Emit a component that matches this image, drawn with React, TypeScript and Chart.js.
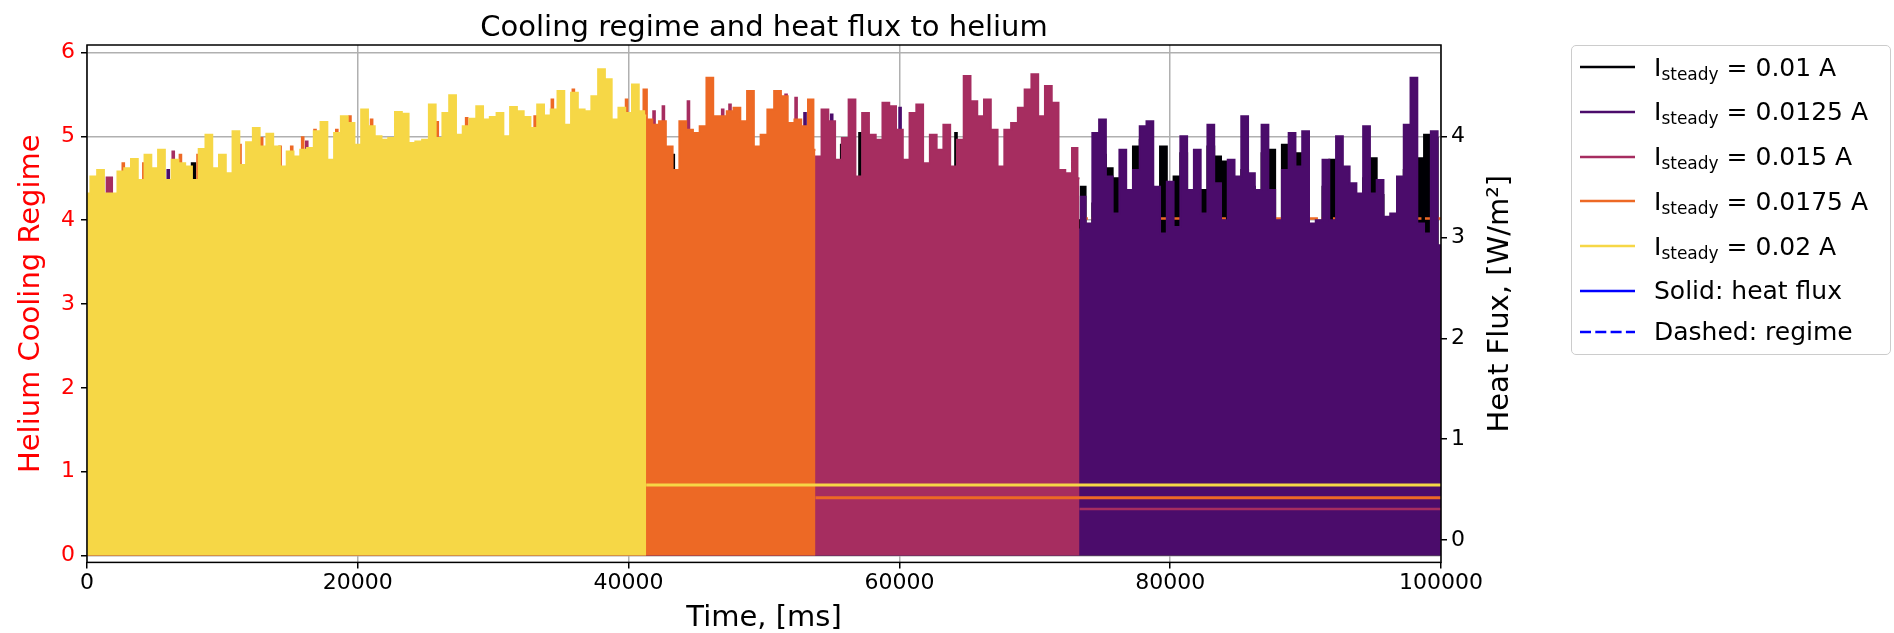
import React, { useEffect, useRef } from "react";
import { Chart, registerables } from "chart.js";

Chart.register(...registerables);

const FONT = '"DejaVu Sans", "Liberation Sans", sans-serif';

const TITLE = "Cooling regime and heat flux to helium";
const X_LABEL = "Time, [ms]";
const Y_LEFT_LABEL = "Helium Cooling Regime";
const Y_RIGHT_LABEL = "Heat Flux, [W/m\u00B2]";

const X_TICKS = [0, 20000, 40000, 60000, 80000, 100000];
const LEFT_TICKS = [0, 1, 2, 3, 4, 5, 6];
const RIGHT_TICKS = [0, 1, 2, 3, 4];

const CURRENTS = ["0.01", "0.0125", "0.015", "0.0175", "0.02"];
const COLORS = ["#000004", "#4b0c6b", "#a62d60", "#ed6925", "#f6d746"];

const STEP = 500; // ms between envelope samples

// ---- regime envelopes (left axis) ----
// I = 0.02 A, samples from t = 0
const YELLOW_T0 = 0;
const YELLOW_ENV = [
  4.32, 4.52, 4.6, 4.32, 4.32, 4.58, 4.62, 4.73, 4.48, 4.78,
  4.62, 4.84, 4.48, 4.72, 4.68, 4.64, 4.48, 4.85, 5.02, 4.62,
  4.78, 4.56, 5.06, 4.66, 4.93, 5.1, 4.88, 5.03, 4.88, 4.64,
  4.82, 4.76, 4.84, 4.86, 5.06, 5.17, 4.72, 5.04, 5.24, 5.16,
  4.9, 5.32, 5.12, 5.0, 4.96, 4.98, 5.29, 5.27, 4.92, 4.94,
  4.96, 5.38, 4.98, 5.28, 5.49, 5.02, 5.12, 5.21, 5.36, 5.2,
  5.23, 5.28, 5.0, 5.35, 5.3, 5.23, 5.1, 5.38, 5.25, 5.32,
  5.54, 5.14, 5.52, 5.32, 5.3, 5.48, 5.8, 5.68, 5.2, 5.34,
  5.28, 5.62, 5.3,
];
const YELLOW_TAIL: [number, number][] = [[41300, 5.25]];

// I = 0.0175 A
const ORANGE_HIDDEN: [number, number][] = [
  [0, 4.1], [2560, 4.1], [2680, 4.68], [2800, 4.15], [4080, 4.2], [4200, 4.68], [4320, 4.2],
  [6780, 4.2], [6900, 4.78], [7020, 4.2], [8080, 4.3], [8200, 4.78], [8320, 4.3],
  [11180, 4.35], [11300, 4.9], [11420, 4.35], [12780, 4.35], [12900, 4.98], [13020, 4.35],
  [14140, 4.4], [14260, 4.88], [14380, 4.4], [15000, 4.45], [15120, 4.88], [15240, 4.45],
  [15810, 4.45], [15930, 4.99], [16050, 4.45], [16720, 4.5], [16840, 5.08], [16960, 4.5],
  [18330, 4.55], [18450, 5.08], [18570, 4.55], [19300, 4.6], [19420, 5.24], [19540, 4.6],
  [20900, 4.6], [21020, 5.2], [21140, 4.6], [25750, 4.7], [25870, 5.17], [25990, 4.7],
  [27920, 4.75], [28040, 5.22], [28160, 4.75], [32980, 4.85], [33100, 5.24], [33220, 4.85],
  [34250, 4.85], [34370, 5.44], [34490, 4.85], [35800, 4.9], [35920, 5.56], [36040, 4.9],
  [39730, 4.95], [39850, 5.44], [39970, 4.95], [41000, 4.95], [41200, 5.56],
];
const ORANGE_T0 = 41500;
const ORANGE_ENV = [
  5.2, 5.14, 5.18, 4.88, 4.6, 5.18, 5.08, 5.04, 5.12, 5.7,
  5.24, 5.24, 5.3, 5.34, 5.18, 5.54, 4.88, 5.02, 5.32, 5.54,
  5.48, 5.16, 5.2, 5.12, 5.44,
];
const ORANGE_TAIL: [number, number][] = [[53800, 4.84]];

// I = 0.015 A
const MAGENTA_HIDDEN: [number, number][] = [
  [0, 4.05], [1400, 4.1], [1500, 4.51], [1800, 4.51], [1900, 4.1], [6250, 4.15], [6370, 4.82], [6490, 4.15],
  [9700, 4.25], [9820, 4.76], [9940, 4.25], [16110, 4.4], [16230, 4.94], [16350, 4.4],
  [30000, 4.6], [41000, 4.8], [41300, 4.4], [41760, 4.4], [41880, 5.3], [42000, 4.4],
  [42450, 4.4], [42570, 5.36], [42690, 4.4], [44300, 4.4], [44420, 5.42], [44540, 4.4],
  [46830, 4.4], [46950, 5.32], [47070, 4.4], [47370, 4.4], [47490, 5.38], [47610, 4.4],
  [51510, 4.4], [51630, 5.5], [51750, 4.4], [52250, 4.4], [52370, 5.46], [52490, 4.4],
  [53800, 4.76],
];
const MAGENTA_T0 = 54000;
const MAGENTA_ENV = [
  4.76, 5.32, 5.18, 4.72, 4.98, 5.44, 4.52, 5.28, 5.02, 4.96,
  5.4, 5.36, 5.08, 4.72, 5.28, 5.38, 4.68, 5.02, 4.84, 5.14,
  4.64, 4.96, 5.72, 5.42, 5.24, 5.44, 5.08, 4.64, 5.08, 5.16,
  5.34, 5.56, 5.74, 5.24, 5.6, 5.4, 4.6, 4.56, 4.86,
];
const MAGENTA_TAIL: [number, number][] = [[73300, 4.5]];

// I = 0.0125 A
const PURPLE_HIDDEN: [number, number][] = [
  [0, 4.0], [5880, 4.1], [6000, 4.6], [6120, 4.1], [41300, 4.25],
  [52910, 4.3], [53030, 5.28], [53150, 4.3], [54880, 4.3], [55000, 5.26], [55120, 4.3],
  [59930, 4.3], [60050, 5.34], [60170, 4.3], [73300, 3.89],
];
const PURPLE_T0 = 73500;
const PURPLE_ENV = [
  4.28, 3.96, 5.04, 5.2, 4.52, 4.08, 4.84, 4.36, 4.6, 5.12,
  5.18, 4.4, 3.84, 4.46, 3.92, 5.0, 4.36, 4.84, 4.08, 5.14,
  4.44, 4.0, 4.72, 4.52, 5.24, 4.56, 4.36, 5.14, 4.36, 4.0,
  4.6, 5.04, 4.64, 5.06, 3.96, 4.0, 4.72, 4.0, 5.0, 4.64,
  4.44, 4.32, 5.12, 4.32, 4.48, 4.04, 4.08, 4.52, 5.14, 5.7,
  3.96, 3.84, 5.06, 3.7,
];

// I = 0.01 A
const BLACK_HIDDEN: [number, number][] = [
  [0, 4.0], [7700, 4.1], [7780, 4.68], [7950, 4.68], [8030, 4.1], [41300, 4.2],
  [43180, 4.2], [43300, 4.78], [43420, 4.2], [55620, 4.2], [55740, 4.9], [55860, 4.2],
  [56970, 4.2], [57090, 5.04], [57210, 4.2], [64060, 4.2], [64180, 5.04], [64300, 4.2],
  [73300, 4.0],
];
const BLACK_T0 = 73500;
const BLACK_ENV = [
  4.4, 3.9, 4.2, 4.78, 4.62, 4.5, 4.3, 4.2, 4.88, 4.96,
  4.4, 4.3, 4.88, 4.3, 4.52, 4.8, 4.2, 4.3, 4.36, 4.88,
  4.76, 4.7, 4.3, 4.4, 4.6, 4.4, 4.2, 4.8, 4.84, 3.9,
  4.9, 4.5, 4.8, 4.4, 3.8, 3.9, 4.4, 4.72, 4.3, 4.4,
  4.3, 4.2, 4.5, 4.74, 4.3, 3.9, 3.9, 4.3, 4.6, 4.4,
  4.74, 5.02, 4.98, 3.6,
];

// regime of I = 0.0175 A after its transition (dashed)
const REGIME_DASHED_0175: [number, number][] = [[53800, 4.02], [100000, 4.02]];

// ---- steady heat flux (right axis) ----
const HF_020: [number, number][] = [[41300, 0.547], [100000, 0.547]];
const HF_0175: [number, number][] = [[53800, 0.42], [100000, 0.42]];
const HF_015: [number, number][] = [[73300, 0.31], [100000, 0.31]];

const pairs = (a: [number, number][]) => a.map(([x, y]) => ({ x, y }));
const grid = (t0: number, v: number[]) => v.map((y, i) => ({ x: t0 + i * STEP, y }));

function regimeFill(label: string, color: string, data: any[], order: number) {
  return {
    label,
    data,
    yAxisID: "y",
    borderColor: color,
    backgroundColor: color,
    borderWidth: 2,
    pointRadius: 0,
    stepped: "middle",
    fill: "origin",
    order,
  };
}

function fluxLine(label: string, color: string, data: any[], order: number, width: number) {
  return {
    label,
    data,
    yAxisID: "y1",
    borderColor: color,
    backgroundColor: color,
    borderWidth: width,
    pointRadius: 0,
    fill: false,
    order,
  };
}

const framePlugin = {
  id: "frameAndTitles",
  afterDraw(chart: any) {
    const { ctx, chartArea: a } = chart;
    ctx.save();
    ctx.strokeStyle = "#000";
    ctx.lineWidth = 1.5;
    ctx.strokeRect(a.left, a.top, a.right - a.left, a.bottom - a.top);
    ctx.font = `29px ${FONT}`;
    ctx.textAlign = "center";
    ctx.textBaseline = "alphabetic";
    ctx.fillStyle = "#000";
    const cx = (a.left + a.right) / 2;
    const cy = (a.top + a.bottom) / 2;
    ctx.fillText(TITLE, cx, a.top - 9);
    ctx.fillText(X_LABEL, cx, a.bottom + 64);
    ctx.save();
    ctx.translate(a.left - 48, cy);
    ctx.rotate(-Math.PI / 2);
    ctx.fillStyle = "#ff0000";
    ctx.fillText(Y_LEFT_LABEL, 0, 0);
    ctx.restore();
    ctx.save();
    ctx.translate(a.right + 67, cy);
    ctx.rotate(-Math.PI / 2);
    ctx.fillStyle = "#000";
    ctx.fillText(Y_RIGHT_LABEL, 0, 0);
    ctx.restore();
    ctx.restore();
  },
};

const LEGEND_ROWS = [
  ...CURRENTS.map((c, i) => ({ sub: true, text: ` = ${c} A`, color: COLORS[i], dashed: false })),
  { sub: false, text: "Solid: heat flux", color: "#0000ff", dashed: false },
  { sub: false, text: "Dashed: regime", color: "#0000ff", dashed: true },
];

export default function App() {
  const ref = useRef<HTMLCanvasElement>(null);

  useEffect(() => {
    const canvas = ref.current;
    if (!canvas) return;
    const tickFont = { family: FONT, size: 22 };
    const chart = new Chart(canvas, {
      type: "line",
      data: {
        datasets: [
          fluxLine("hf 0.02", COLORS[4], pairs(HF_020), 1, 3),
          fluxLine("hf 0.0175", COLORS[3], pairs(HF_0175), 2, 3),
          fluxLine("hf 0.015", COLORS[2], pairs(HF_015), 3, 2.5),
          regimeFill("0.02", COLORS[4], [...grid(YELLOW_T0, YELLOW_ENV), ...pairs(YELLOW_TAIL)], 4),
          regimeFill("0.0175", COLORS[3], [...pairs(ORANGE_HIDDEN), ...grid(ORANGE_T0, ORANGE_ENV), ...pairs(ORANGE_TAIL)], 5),
          regimeFill("0.015", COLORS[2], [...pairs(MAGENTA_HIDDEN), ...grid(MAGENTA_T0, MAGENTA_ENV), ...pairs(MAGENTA_TAIL)], 6),
          regimeFill("0.0125", COLORS[1], [...pairs(PURPLE_HIDDEN), ...grid(PURPLE_T0, PURPLE_ENV)], 7),
          {
            label: "regime 0.0175",
            data: pairs(REGIME_DASHED_0175),
            yAxisID: "y",
            borderColor: COLORS[3],
            borderWidth: 2.5,
            borderDash: [8, 3.5],
            pointRadius: 0,
            fill: false,
            order: 8,
          },
          regimeFill("0.01", COLORS[0], [...pairs(BLACK_HIDDEN), ...grid(BLACK_T0, BLACK_ENV)], 9),
        ] as any,
      },
      options: {
        responsive: false,
        devicePixelRatio: 1,
        animation: false,
        layout: { padding: { top: 45, left: 0, right: 0, bottom: 0 } },
        plugins: { legend: { display: false }, tooltip: { enabled: false }, title: { display: false } },
        scales: {
          x: {
            type: "linear",
            min: 0,
            max: 100000,
            afterBuildTicks: (s: any) => { s.ticks = X_TICKS.map((v) => ({ value: v })); },
            afterFit: (s: any) => { s.height = 70.6; },
            ticks: { font: tickFont, color: "#000", padding: 2, maxRotation: 0, callback: (v: any) => String(v) },
            grid: { color: "#b0b0b0", lineWidth: 1.5, tickColor: "#000", tickLength: 6, drawTicks: true },
            border: { display: false },
          },
          y: {
            type: "linear",
            position: "left",
            min: -0.082,
            max: 6.09,
            afterBuildTicks: (s: any) => { s.ticks = LEFT_TICKS.map((v) => ({ value: v })); },
            afterFit: (s: any) => { s.width = 87; },
            ticks: { font: tickFont, color: "#ff0000", padding: 6, callback: (v: any) => String(v) },
            grid: { color: "#b0b0b0", lineWidth: 1.5, tickColor: "#000", tickLength: 6 },
            border: { display: false },
          },
          y1: {
            type: "linear",
            position: "right",
            min: -0.22,
            max: 4.905,
            afterBuildTicks: (s: any) => { s.ticks = RIGHT_TICKS.map((v) => ({ value: v })); },
            afterFit: (s: any) => { s.width = 453; },
            ticks: { font: tickFont, color: "#000", padding: 4, callback: (v: any) => String(v) },
            grid: { drawOnChartArea: false, color: "#000", tickColor: "#000", tickLength: 6, lineWidth: 1.5 },
            border: { display: false },
          },
        },
      } as any,
      plugins: [framePlugin],
    });
    return () => chart.destroy();
  }, []);

  return (
    <div style={{ position: "fixed", left: 0, top: 0, width: 1894, height: 633, background: "#fff", overflow: "hidden" }}>
      <canvas ref={ref} width={1894} height={633} style={{ position: "absolute", left: 0, top: 0, width: 1894, height: 633 }} />
      <div
        style={{
          position: "absolute",
          left: 1571,
          top: 45,
          width: 320,
          height: 310,
          boxSizing: "border-box",
          border: "1.5px solid #cccccc",
          borderRadius: 5,
          background: "rgba(255,255,255,0.8)",
          paddingTop: 6,
          fontFamily: FONT,
          fontSize: 25,
          color: "#000",
        }}
      >
        {LEGEND_ROWS.map((r, i) => (
          <div
            key={i}
            style={{
              display: "flex",
              alignItems: "center",
              height: 30,
              marginTop: i === 0 ? 0 : i === LEGEND_ROWS.length - 1 ? 11 : 14.8,
              whiteSpace: "nowrap",
            }}
          >
            <svg width={55} height={10} style={{ marginLeft: 8, flex: "none" }}>
              <line
                x1={0}
                y1={5}
                x2={55}
                y2={5}
                stroke={r.color}
                strokeWidth={2.7}
                strokeDasharray={r.dashed ? "11 4.3" : undefined}
              />
            </svg>
            <span style={{ marginLeft: 19, lineHeight: "30px", position: "relative", top: r.sub ? 1.5 : 0 }}>
              {r.sub ? (
                <>
                  I<span style={{ fontSize: 17, position: "relative", top: 4 }}>steady</span>
                  {r.text}
                </>
              ) : (
                r.text
              )}
            </span>
          </div>
        ))}
      </div>
    </div>
  );
}
